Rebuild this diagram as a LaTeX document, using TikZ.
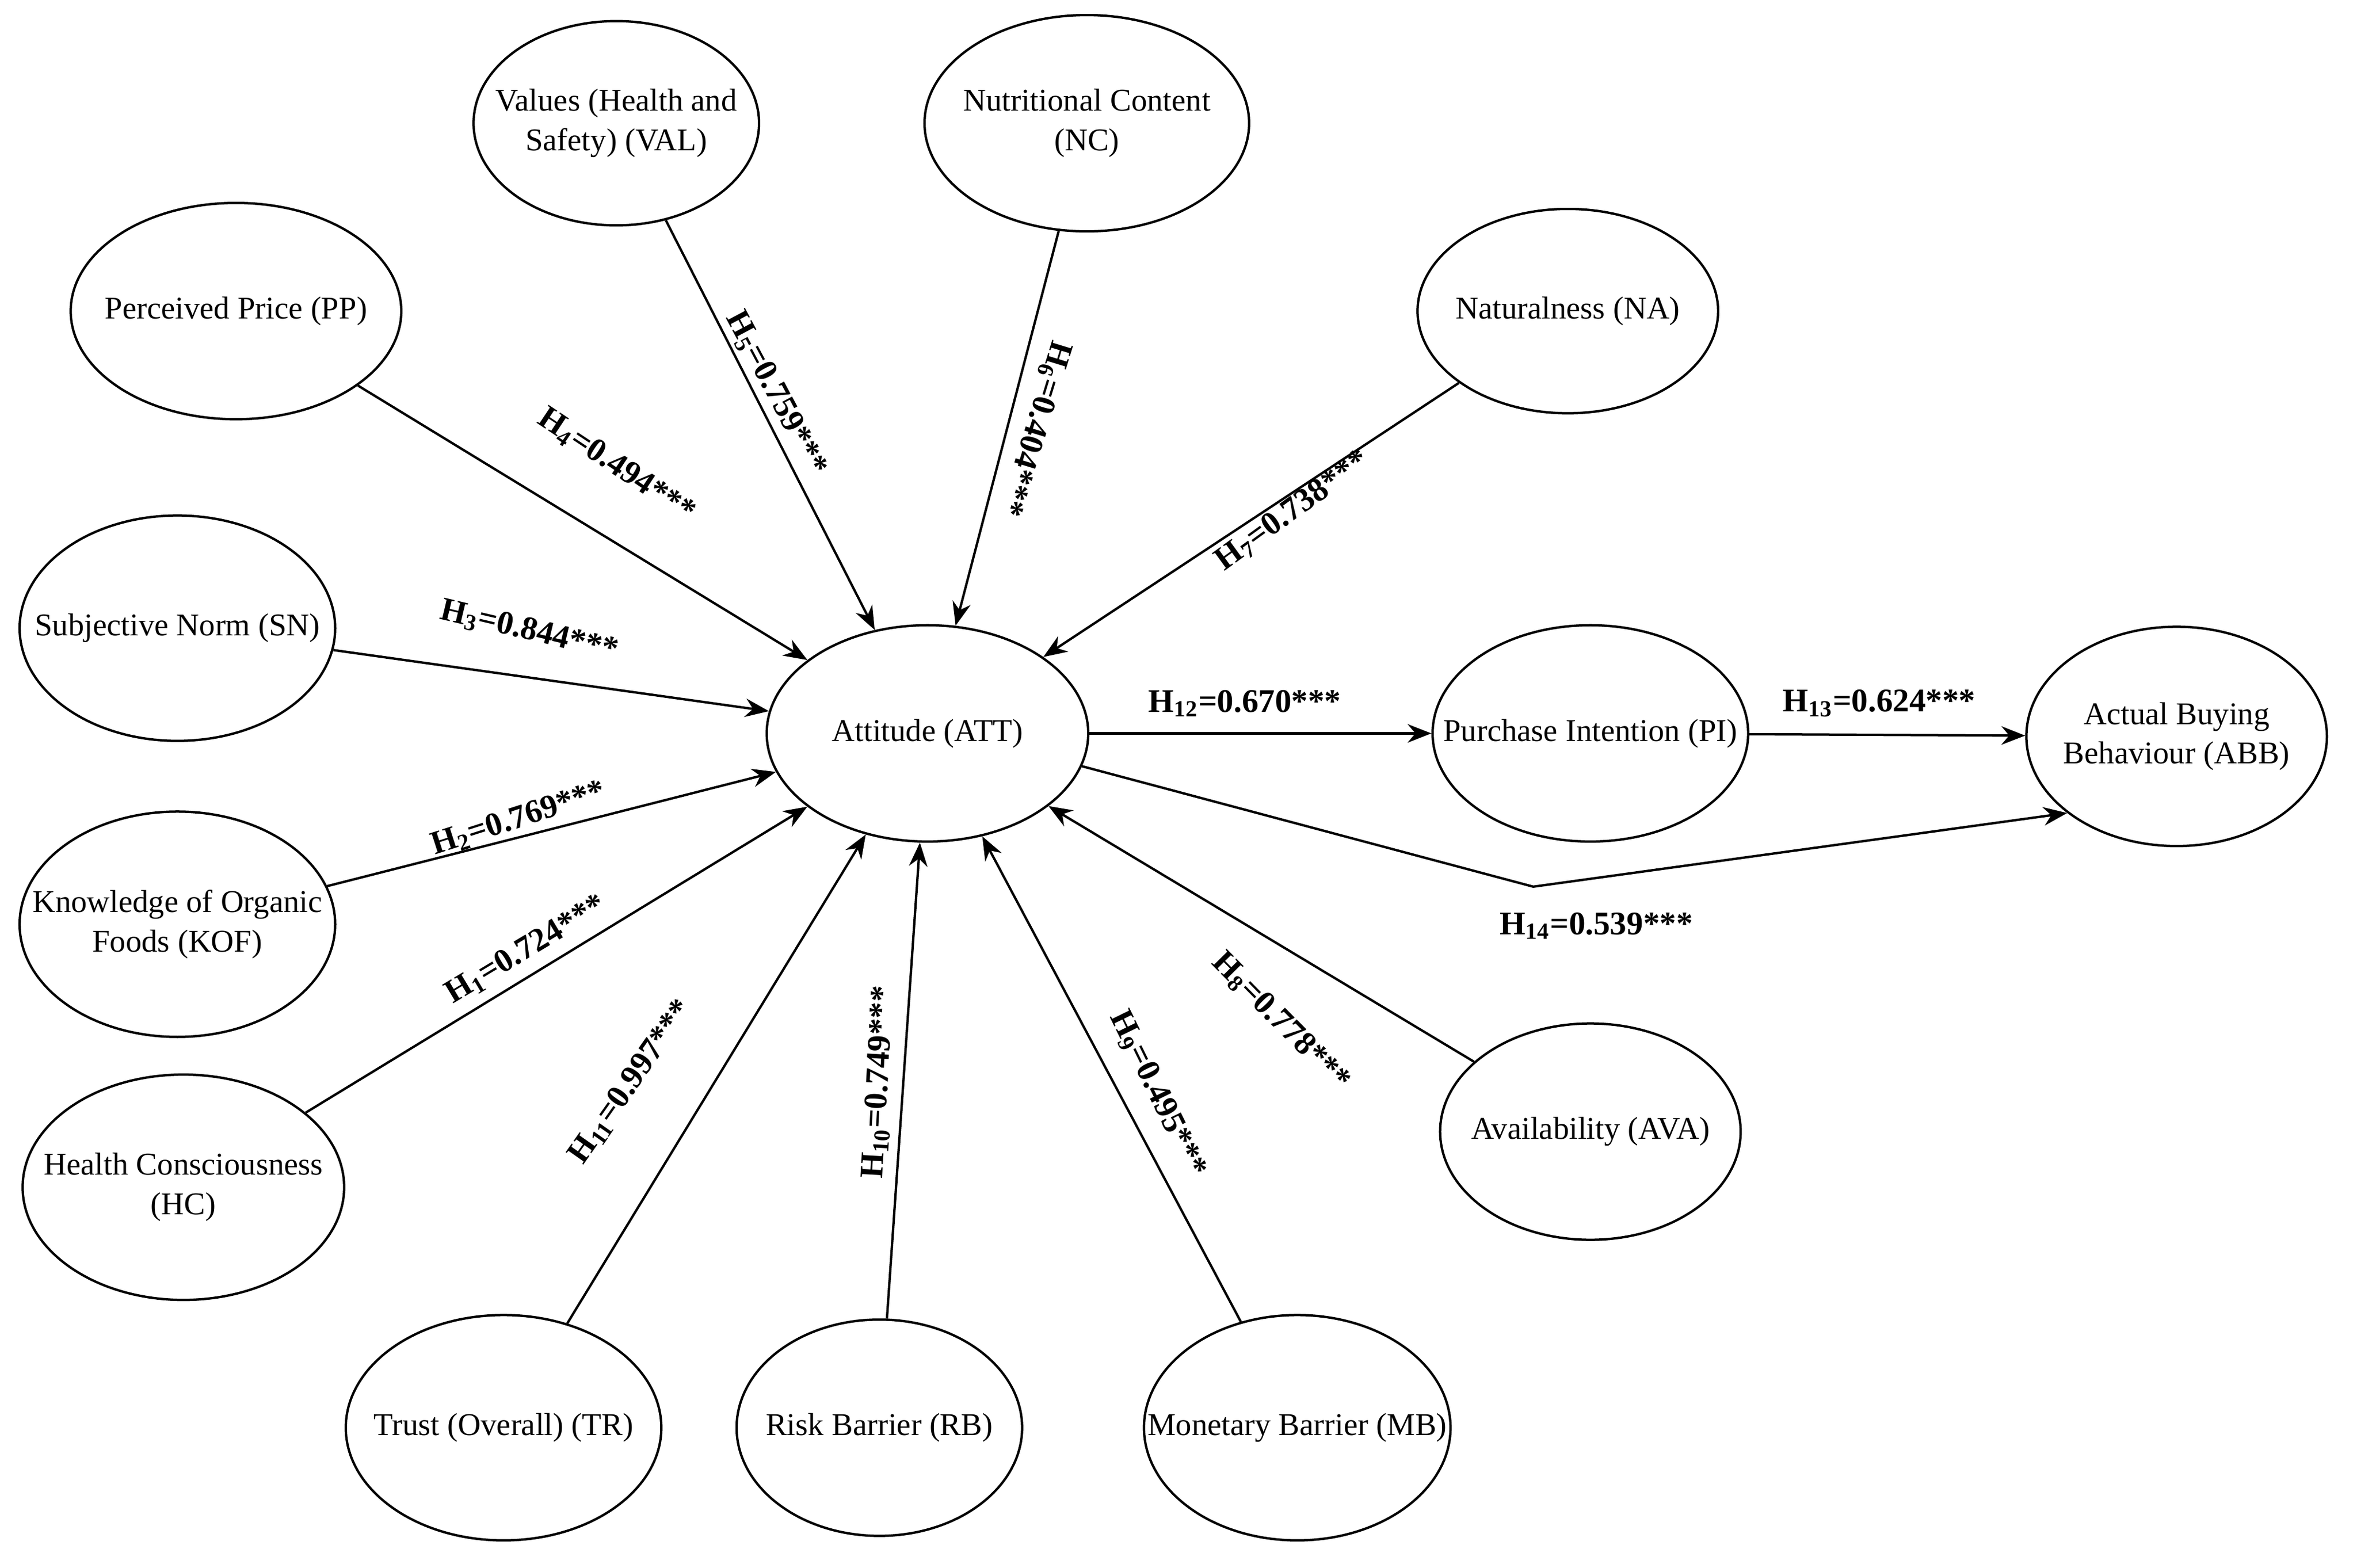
\documentclass[tikz,border=0pt]{standalone}
\usepackage{fontspec}
\setmainfont{Liberation Serif}
\usetikzlibrary{shapes.geometric,arrows.meta}
\newcommand\hlab[2]{\textbf{H\textsubscript{#1}=#2***}}
\begin{document}
\begin{tikzpicture}[x=0.02cm,y=-0.02cm,
  el/.style={ellipse,draw,line width=0.9pt,inner sep=0pt},
  tx/.style={align=center,inner sep=0pt,font=\fontsize{12}{15}\selectfont},
  ar/.style={-{Stealth[length=9pt,width=7pt]},line width=0.9pt},
  lb/.style={font=\fontsize{12.5}{15}\selectfont,inner sep=1pt}]
\useasboundingbox (0,0) rectangle (1568,1043);
\fill[white] (0,0) rectangle (1568,1043);
\def\E#1#2#3#4#5#6{\node[el,minimum width=#4*0.04cm,minimum height=#5*0.04cm] (#1) at (#2,#3) {};
  \node[tx] (#1-t) at (#2,#3) {#6};}
\E{val}{410}{82}{95}{68}{Values (Health and\\Safety) (VAL)}
\E{nc}{723}{82}{108}{72}{Nutritional Content\\(NC)}
\E{pp}{157}{207}{110}{72}{Perceived Price (PP)}
\E{na}{1043}{207}{100}{68}{Naturalness (NA)}
\E{sn}{118}{418}{105}{75}{Subjective Norm (SN)}
\E{att}{617}{488}{107}{72}{Attitude (ATT)}
\E{pi}{1058}{488}{105}{72}{Purchase Intention (PI)}
\E{abb}{1448}{490}{100}{73}{Actual Buying\\Behaviour (ABB)}
\E{kof}{118}{615}{105}{75}{Knowledge of Organic\\Foods (KOF)}
\E{hc}{122}{790}{107}{75}{Health Consciousness\\(HC)}
\E{ava}{1058}{753}{100}{72}{Availability (AVA)}
\E{tr}{335}{950}{105}{75}{Trust (Overall) (TR)}
\E{rb}{585}{950}{95}{72}{Risk Barrier (RB)}
\E{mb}{863}{950}{102}{75}{Monetary Barrier (MB)}
\foreach \s in {val,nc,pp,na,sn,kof,hc,ava,tr,rb,mb} \draw[ar] (\s) -- (att);
\draw[ar] (att) -- (pi);
\draw[ar] (pi) -- (abb);
\coordinate (bend) at (1020,590);
\draw[ar] (att.-12) -- (bend) -- (abb.-145);
\node[lb,rotate=-33.6] at (410,310) {\hlab{4}{0.494}};
\node[lb,rotate=-62] at (516,262) {\hlab{5}{0.759}};
\node[lb,rotate=-107] at (688,285) {\hlab{6}{0.404}};
\node[lb,rotate=36] at (860,340) {\hlab{7}{0.738}};
\node[lb,rotate=-13.3] at (352,420) {\hlab{3}{0.844}};
\node[lb,rotate=17.8] at (345,545) {\hlab{2}{0.769}};
\node[lb,rotate=31] at (350,632) {\hlab{1}{0.724}};
\node[lb,rotate=54.9] at (420,720) {\hlab{11}{0.997}};
\node[lb,rotate=86.8] at (585,720) {\hlab{10}{0.749}};
\node[lb,rotate=-63.9] at (770,728) {\hlab{9}{0.495}};
\node[lb,rotate=-45.4] at (852,680) {\hlab{8}{0.778}};
\node[lb] at (828,468) {\hlab{12}{0.670}};
\node[lb] at (1250,468) {\hlab{13}{0.624}};
\node[lb] at (1062,616) {\hlab{14}{0.539}};
\end{tikzpicture}
\end{document}
